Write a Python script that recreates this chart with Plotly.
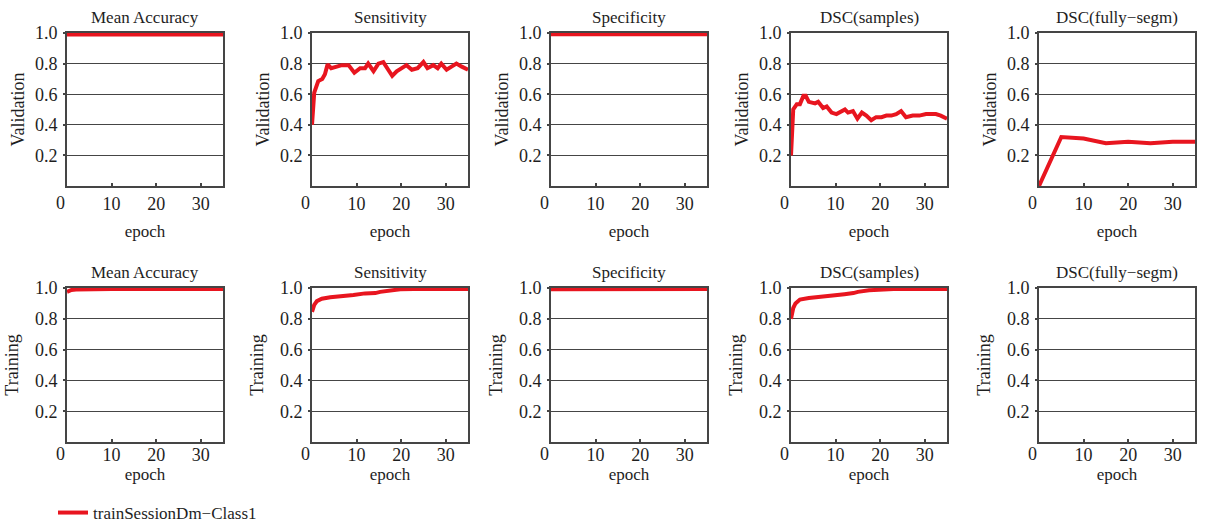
import plotly.graph_objects as go

# ---------------- data ----------------
metrics = ["Mean Accuracy", "Sensitivity", "Specificity", "DSC(samples)", "DSC(fully\u2212segm)"]
row_labels = ["Validation", "Training"]
series_name = "trainSessionDm\u2212Class1"

# Validation
val_acc_epoch = [0, 1, 5, 10, 20, 35]
val_acc = [0.99, 0.99, 0.991, 0.991, 0.991, 0.991]

val_sens_epoch = [0, 0.5, 1.4, 2.3, 2.9, 3.5, 4.3, 5.5, 6.7, 8.2, 9.5, 10.8, 11.9, 12.6,
                  13.8, 14.9, 16.0, 17.1, 18.0, 19.0, 20.1, 21.2, 22.4, 23.7, 25.0, 25.9,
                  27.2, 28.2, 29.0, 30.2, 31.3, 32.4, 33.6, 35.0]
val_sens = [0.40, 0.61, 0.686, 0.70, 0.73, 0.795, 0.77, 0.78, 0.79, 0.79, 0.74, 0.77, 0.77, 0.80,
            0.75, 0.80, 0.81, 0.76, 0.72, 0.75, 0.77, 0.79, 0.76, 0.77, 0.81, 0.77,
            0.79, 0.77, 0.80, 0.76, 0.78, 0.80, 0.78, 0.76]

val_spec_epoch = [0, 5, 10, 20, 35]
val_spec = [0.992, 0.992, 0.992, 0.992, 0.992]

val_dsc_epoch = [0, 0.5, 1.3, 2.0, 2.8, 3.3, 4.0, 5.4, 6.1, 7.2, 8.0, 9.1, 10.2, 11.3, 12.1,
                 12.8, 13.9, 14.9, 15.9, 16.9, 18.0, 19.1, 20.3, 21.4, 22.5, 23.6, 24.7,
                 25.8, 27.3, 28.8, 30.3, 31.4, 32.5, 33.6, 35.0]
val_dsc = [0.20, 0.50, 0.535, 0.535, 0.59, 0.59, 0.55, 0.54, 0.55, 0.51, 0.52, 0.48, 0.47, 0.49, 0.50,
           0.48, 0.49, 0.44, 0.48, 0.46, 0.43, 0.45, 0.45, 0.46, 0.46, 0.47, 0.49,
           0.45, 0.46, 0.46, 0.47, 0.47, 0.47, 0.46, 0.44]

val_full_epoch = [0, 5, 10, 15, 20, 25, 30, 35]
val_full = [0.0, 0.32, 0.31, 0.28, 0.29, 0.28, 0.29, 0.29]

# Training
tr_acc_epoch = [0, 0.5, 1, 2, 5, 10, 20, 35]
tr_acc = [0.975, 0.983, 0.987, 0.99, 0.992, 0.993, 0.994, 0.994]

tr_sens_epoch = [0, 0.5, 1.1, 2.2, 4.1, 6.3, 9.3, 11.9, 14.2, 15.3, 17.5, 19.8, 22.8, 35]
tr_sens = [0.845, 0.89, 0.915, 0.93, 0.94, 0.945, 0.955, 0.965, 0.967, 0.975, 0.985, 0.992, 0.994, 0.994]

tr_spec_epoch = [0, 5, 10, 20, 35]
tr_spec = [0.992, 0.993, 0.993, 0.993, 0.993]

tr_dsc_epoch = [0, 0.5, 1, 2, 4, 6, 9, 12, 14, 15, 17.5, 20, 23, 35]
tr_dsc = [0.80, 0.87, 0.90, 0.925, 0.935, 0.94, 0.95, 0.96, 0.967, 0.975, 0.985, 0.992, 0.994, 0.994]

tr_full_epoch = []
tr_full = []

y_ticks = [0.2, 0.4, 0.6, 0.8, 1.0]
y_ticktext = ["0.2", "0.4", "0.6", "0.8", "1.0"]
x_ticks = [10, 20, 30]
x_ticktext = ["10", "20", "30"]

series = [
    [(val_acc_epoch, val_acc), (val_sens_epoch, val_sens), (val_spec_epoch, val_spec),
     (val_dsc_epoch, val_dsc), (val_full_epoch, val_full)],
    [(tr_acc_epoch, tr_acc), (tr_sens_epoch, tr_sens), (tr_spec_epoch, tr_spec),
     (tr_dsc_epoch, tr_dsc), (tr_full_epoch, tr_full)],
]

# ---------------- layout ----------------
W, H = 1220, 523
FONT = "Times New Roman"
RED = "#e8151f"
GRID = "#454545"
TXT = "#1e1e1e"

lefts = [67, 312, 551, 791, 1039]
pw = 156
rows_px = [(33, 186), (288, 442)]

fig = go.Figure()
layout = dict(
    width=W, height=H, autosize=False,
    margin=dict(l=0, r=0, t=0, b=0, autoexpand=False),
    paper_bgcolor="white", plot_bgcolor="white",
    font=dict(family=FONT, color=TXT, size=17),
    showlegend=True,
    legend=dict(x=53 / W, y=1 - 513 / H, xanchor="left", yanchor="middle",
                orientation="h", font=dict(size=17, family=FONT, color=TXT),
                bgcolor="rgba(0,0,0,0)", itemwidth=30),
)
annotations = []

for r in range(2):
    top, bot = rows_px[r]
    for c in range(5):
        idx = r * 5 + c + 1
        xa = "xaxis" if idx == 1 else f"xaxis{idx}"
        ya = "yaxis" if idx == 1 else f"yaxis{idx}"
        xr = "x" if idx == 1 else f"x{idx}"
        yr = "y" if idx == 1 else f"y{idx}"
        x0 = lefts[c] / W
        x1 = (lefts[c] + pw) / W
        layout[xa] = dict(
            domain=[x0, x1], anchor=yr, range=[0, 35],
            tickvals=x_ticks, ticktext=x_ticktext,
            ticks="inside", ticklen=3, tickwidth=2, tickcolor=GRID,
            showgrid=False, zeroline=False,
            showline=True, linecolor=GRID, linewidth=1.6, mirror=True,
            tickfont=dict(size=18, family=FONT, color=TXT),
            ticklabelstandoff=(1 if r == 0 else -4),
            title=dict(text="epoch", font=dict(size=17, family=FONT, color=TXT),
                       standoff=(12 if r == 0 else 2)),
            fixedrange=True,
        )
        layout[ya] = dict(
            domain=[1 - bot / H, 1 - top / H], anchor=xr, range=[0, 1.0],
            tickvals=y_ticks, ticktext=y_ticktext,
            ticks="outside", ticklen=2, tickwidth=2, tickcolor=GRID,
            showgrid=True, gridcolor=GRID, gridwidth=1.4,
            zeroline=False,
            showline=True, linecolor=GRID, linewidth=1.6, mirror=True,
            tickfont=dict(size=18, family=FONT, color=TXT),
            ticklabelstandoff=2,
            title=dict(text=row_labels[r], font=dict(size=18, family=FONT, color=TXT),
                       standoff=(6 if r == 0 else 12)),
            fixedrange=True,
        )
        ex, ey = series[r][c]
        fig.add_trace(go.Scatter(
            x=ex, y=ey, mode="lines", xaxis=xr, yaxis=yr,
            line=dict(color=RED, width=4),
            name=series_name, showlegend=(idx == 1), hoverinfo="skip",
        ))
        # panel title
        annotations.append(dict(
            text=metrics[c], xref="paper", yref="paper",
            x=(lefts[c] + pw / 2) / W, y=1 - (top - 16) / H,
            xanchor="center", yanchor="middle", showarrow=False,
            font=dict(size=17, family=FONT, color=TXT),
        ))
        # lone "0" at the origin corner
        annotations.append(dict(
            text="0", xref="paper", yref="paper",
            x=(lefts[c] - 7) / W, y=1 - (bot + (17 if r == 0 else 12)) / H,
            xanchor="center", yanchor="middle", showarrow=False,
            font=dict(size=18, family=FONT, color=TXT),
        ))

layout["annotations"] = annotations
fig.update_layout(**layout)
fig.write_html("out.html")
